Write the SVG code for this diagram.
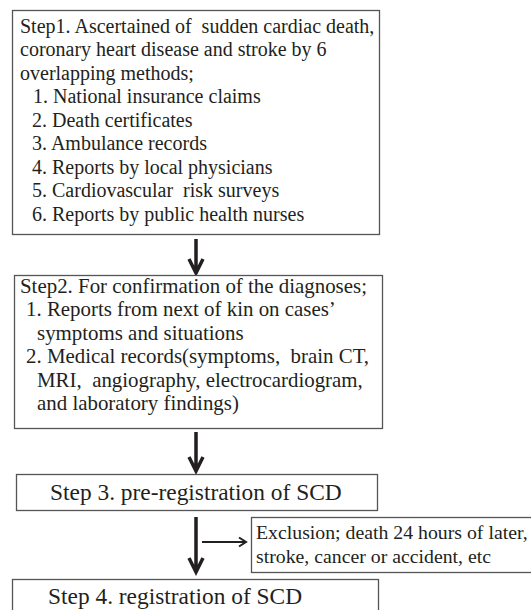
<svg xmlns="http://www.w3.org/2000/svg" width="531" height="610" viewBox="0 0 531 610">
<style>
.box{fill:#fff;stroke:#555;stroke-width:1.3}
.t{font-family:"Liberation Serif","Times New Roman",serif;font-size:20px;fill:#231f20;white-space:pre}
.m{font-size:20.9px}
.big{font-size:23.4px}
.ex{font-size:19.8px}
.arr{fill:none;stroke:#231f20;stroke-width:3.5;stroke-linejoin:miter}
.arr2{fill:none;stroke:#231f20;stroke-width:2;stroke-linejoin:miter}
</style>
<rect width="531" height="610" fill="#fff"/>
<g id="connectors">
<path class="arr" d="M196 239V271M189 259L196 273L203 259"/>
<path class="arr" d="M196 432V469M189 457L196 471L203 457"/>
<path class="arr" d="M196 517V570M189 558L196 572L203 558"/>
<path class="arr2" d="M202 542H245M239 537.5L246 542L239 546.5"/>
</g>
<g id="step1">
<rect class="box" x="12.5" y="10.5" width="367" height="224"/>
<text class="t" x="20" y="32.5">Step1. Ascertained of  sudden cardiac death,</text>
<text class="t" x="20" y="56">coronary heart disease and stroke by 6</text>
<text class="t" x="20" y="79.5">overlapping methods;</text>
<text class="t" x="33" y="103">1. National insurance claims</text>
<text class="t" x="32" y="126.5">2. Death certificates</text>
<text class="t" x="32" y="150">3. Ambulance records</text>
<text class="t" x="32" y="173.5">4. Reports by local physicians</text>
<text class="t" x="32" y="197">5. Cardiovascular  risk surveys</text>
<text class="t" x="32" y="220.5">6. Reports by public health nurses</text>
</g>
<g id="step2">
<rect class="box" x="14.5" y="275.5" width="368" height="153"/>
<text class="t m" x="20" y="292.5">Step2. For confirmation of the diagnoses;</text>
<text class="t m" x="26" y="316">1. Reports from next of kin on cases’</text>
<text class="t m" x="37" y="339.5">symptoms and situations</text>
<text class="t m" x="26" y="363">2. Medical records(symptoms,  brain CT,</text>
<text class="t m" x="37" y="386.5">MRI,  angiography, electrocardiogram,</text>
<text class="t m" x="37" y="410">and laboratory findings)</text>
</g>
<g id="step3">
<rect class="box" x="16.5" y="474.5" width="361" height="36"/>
<text class="t big" x="50" y="500">Step 3. pre-registration of SCD</text>
</g>
<g id="exclusion">
<rect class="box" x="251.5" y="517.5" width="290" height="55"/>
<text class="t ex" x="256" y="539">Exclusion; death 24 hours of later,</text>
<text class="t ex" x="256" y="563">stroke, cancer or accident, etc</text>
</g>
<g id="step4">
<rect class="box" x="12.5" y="579.5" width="366" height="40"/>
<text class="t big" x="48" y="604">Step 4. registration of SCD</text>
</g>
</svg>
